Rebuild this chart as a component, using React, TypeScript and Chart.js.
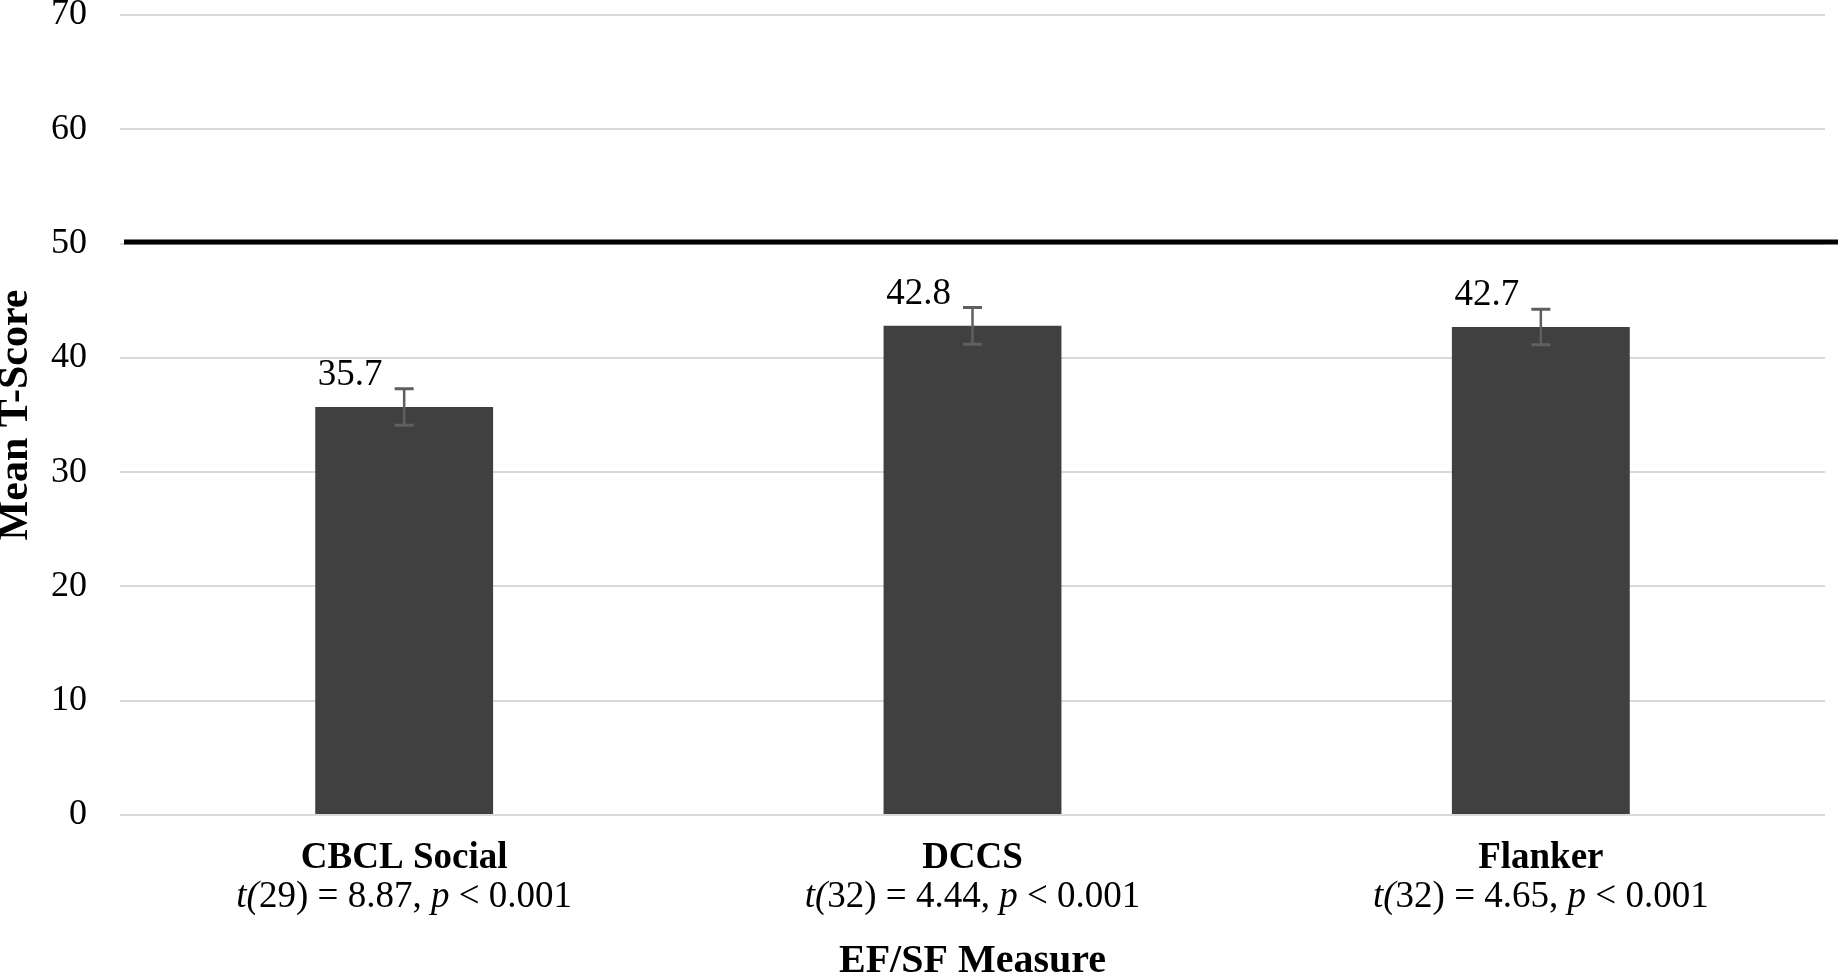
import React, { useEffect, useRef } from "react";
import { Chart, registerables } from "chart.js";

Chart.register(...registerables);

const categories = ["CBCL Social", "DCCS", "Flanker"];
const meanScores = [35.7, 42.8, 42.7];
const errorMargins = [1.6, 1.6, 1.55];
const tDegrees = ["29", "32", "32"];
const tValues = ["8.87", "4.44", "4.65"];
const pValues = ["< 0.001", "< 0.001", "< 0.001"];
const referenceScore = 50;
const yMin = 0;
const yMax = 70;
const yStep = 10;
const yTitle = "Mean T-Score";
const xTitle = "EF/SF Measure";

const SERIF = "'Liberation Serif', 'Times New Roman', serif";

const overlayPlugin = {
  id: "overlay",
  afterDatasetsDraw(chart: any) {
    const { ctx, chartArea } = chart;
    const yScale = chart.scales.y;
    const meta = chart.getDatasetMeta(0);
    ctx.save();
    // reference line at 50
    const yRef = yScale.getPixelForValue(referenceScore) - 1.5;
    ctx.strokeStyle = "#000000";
    ctx.lineWidth = 5;
    ctx.beginPath();
    ctx.moveTo(chartArea.left + 4, yRef);
    ctx.lineTo(chart.width, yRef);
    ctx.stroke();

    meta.data.forEach((bar: any, i: number) => {
      const x = bar.x;
      const yTop = yScale.getPixelForValue(meanScores[i] + errorMargins[i]);
      const yBot = yScale.getPixelForValue(meanScores[i] - errorMargins[i]);
      ctx.strokeStyle = "#5f5f5f";
      ctx.lineWidth = 2.5;
      ctx.beginPath();
      ctx.moveTo(x, yTop);
      ctx.lineTo(x, yBot);
      ctx.stroke();
      ctx.lineWidth = 3;
      ctx.beginPath();
      ctx.moveTo(x - 9.5, yTop);
      ctx.lineTo(x + 9.5, yTop);
      ctx.moveTo(x - 9.5, yBot);
      ctx.lineTo(x + 9.5, yBot);
      ctx.stroke();

      // value label
      ctx.fillStyle = "#000000";
      ctx.font = `37px ${SERIF}`;
      ctx.textAlign = "center";
      ctx.textBaseline = "alphabetic";
      ctx.fillText(meanScores[i].toFixed(1), x - 54, bar.y - 22);
    });
    ctx.restore();
  },
  afterDraw(chart: any) {
    const { ctx } = chart;
    const xScale = chart.scales.x;
    ctx.save();
    ctx.fillStyle = "#000000";
    ctx.textBaseline = "alphabetic";
    ctx.textAlign = "left";
    categories.forEach((_c, i) => {
      const cx = xScale.getPixelForValue(i);
      const italic = `italic 37px ${SERIF}`;
      const normal = `37px ${SERIF}`;
      const parts: [string, string][] = [
        ["t(", italic],
        [`${tDegrees[i]}) = ${tValues[i]}, `, normal],
        ["p", italic],
        [` ${pValues[i]}`, normal],
      ];
      let total = 0;
      parts.forEach(([t, f]) => {
        ctx.font = f;
        total += ctx.measureText(t).width;
      });
      let x = cx - total / 2;
      const baseline = 907;
      parts.forEach(([t, f]) => {
        ctx.font = f;
        ctx.fillText(t, x, baseline);
        x += ctx.measureText(t).width;
      });
    });
    ctx.restore();
  },
};

export default function App() {
  const canvasRef = useRef<HTMLCanvasElement | null>(null);

  useEffect(() => {
    document.body.style.margin = "0";
    const canvas = canvasRef.current;
    if (!canvas) return;
    const chart = new Chart(canvas, {
      type: "bar",
      data: {
        labels: categories,
        datasets: [
          {
            data: meanScores,
            backgroundColor: "#404040",
            borderWidth: 0,
            barPercentage: 0.313,
            categoryPercentage: 1,
          },
        ],
      },
      options: {
        responsive: false,
        animation: false,
        devicePixelRatio: 1,
        layout: { padding: { top: 15, right: 13, bottom: 0, left: 0 } },
        plugins: {
          legend: { display: false },
          tooltip: { enabled: false },
        },
        scales: {
          x: {
            grid: { display: false, drawTicks: true, tickLength: 21.6 },
            border: { display: false },
            ticks: {
              color: "#000000",
              padding: 0,
              font: { family: SERIF, size: 37, weight: "bold", lineHeight: 1.2 },
              maxRotation: 0,
              autoSkip: false,
            },
            title: {
              display: true,
              text: xTitle,
              color: "#000000",
              font: { family: SERIF, size: 40, weight: "bold", lineHeight: 0.75 },
              padding: { top: 66, bottom: 0 },
            },
          },
          y: {
            min: yMin,
            max: yMax,
            grid: {
              color: "#d9d9d9",
              lineWidth: 2,
              drawTicks: true,
              tickLength: 33,
              tickColor: "rgba(0,0,0,0)",
            },
            border: { display: false },
            ticks: {
              stepSize: yStep,
              color: "#000000",
              padding: 0,
              font: { family: SERIF, size: 36, lineHeight: 0.8 },
            },
            title: {
              display: true,
              text: yTitle,
              color: "#000000",
              font: { family: SERIF, size: 42, weight: "bold", lineHeight: 0.75 },
              padding: { top: 0, bottom: 19.5 },
            },
          },
        },
      },
      plugins: [overlayPlugin],
    });
    return () => chart.destroy();
  }, []);

  return (
    <div style={{ width: 1838, height: 977, overflow: "hidden", background: "#ffffff" }}>
      <canvas ref={canvasRef} width={1838} height={977} style={{ display: "block" }} />
    </div>
  );
}
